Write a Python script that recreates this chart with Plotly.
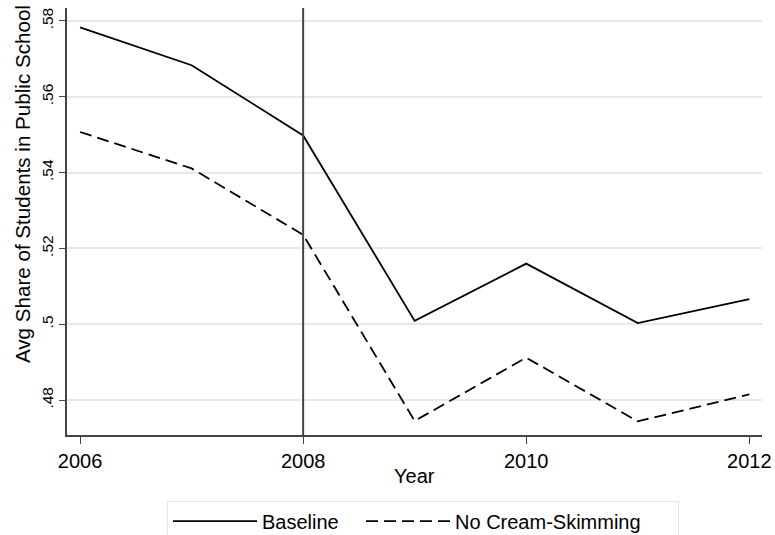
import plotly.graph_objects as go

# Average share of students enrolled in public school, by year
years = [2006, 2007, 2008, 2009, 2010, 2011, 2012]
baseline = [0.5783, 0.5683, 0.5498, 0.5009, 0.5160, 0.5003, 0.5066]
no_cream_skimming = [0.5507, 0.5411, 0.5236, 0.4745, 0.4912, 0.4744, 0.4815]

y_tick_vals = [0.48, 0.50, 0.52, 0.54, 0.56, 0.58]
y_tick_text = [".48", ".5", ".52", ".54", ".56", ".58"]
x_tick_vals = [2006, 2008, 2010, 2012]
policy_year = 2008

FONT = "Liberation Sans, Arial, Helvetica, sans-serif"
AXIS_COLOR = "#444444"

fig = go.Figure()
fig.add_trace(go.Scatter(
    x=years, y=baseline, mode="lines", name="Baseline",
    line=dict(color="black", width=1.8), legendwidth=94,
))
fig.add_trace(go.Scatter(
    x=years, y=no_cream_skimming, mode="lines", name="No Cream-Skimming",
    line=dict(color="black", width=1.8, dash="12px,6px"), legendwidth=218,
))

# vertical reference line at the policy year
fig.add_shape(type="line", xref="x", yref="paper",
              x0=policy_year, x1=policy_year, y0=0, y1=1,
              line=dict(color=AXIS_COLOR, width=2), layer="above")

fig.update_xaxes(
    range=[2005.883, 2012.114], tickvals=x_tick_vals,
    showgrid=False, zeroline=False,
    showline=True, linecolor=AXIS_COLOR, linewidth=1.5,
    ticks="outside", ticklen=7, tickwidth=1.2, tickcolor=AXIS_COLOR,
    tickfont=dict(family=FONT, size=20, color="black"),
)
fig.update_yaxes(
    range=[0.4708, 0.5834], tickvals=y_tick_vals, ticktext=y_tick_text,
    showgrid=True, gridcolor="#e8e8e8", gridwidth=1.5, zeroline=False,
    showline=True, linecolor=AXIS_COLOR, linewidth=1.5,
    ticks="outside", ticklen=6, tickwidth=1.2, tickcolor=AXIS_COLOR,
    tickangle=-90, tickfont=dict(family=FONT, size=15.5, color="black"),
)

fig.add_annotation(text="Avg Share of Students in Public School",
                   xref="paper", yref="paper", x=-0.0647, y=0.5878,
                   xanchor="center", yanchor="middle", textangle=-90,
                   showarrow=False, font=dict(family=FONT, size=20.6, color="black"))
fig.add_annotation(text="Year", xref="paper", yref="paper", x=0.5, y=-0.096,
                   xanchor="center", yanchor="middle", showarrow=False,
                   font=dict(family=FONT, size=20, color="black"))

fig.update_layout(
    width=775, height=535,
    margin=dict(l=67, r=13, t=8, b=100, autoexpand=False),
    paper_bgcolor="white", plot_bgcolor="white",
    showlegend=True,
    legend=dict(
        orientation="h", x=0.1439, y=-0.1539, xanchor="left", yanchor="top",
        bordercolor="#e4e4e4", borderwidth=1, bgcolor="white",
        font=dict(family=FONT, size=20, color="black"),
        itemwidth=84,
    ),
)

fig.write_html("out.html")
